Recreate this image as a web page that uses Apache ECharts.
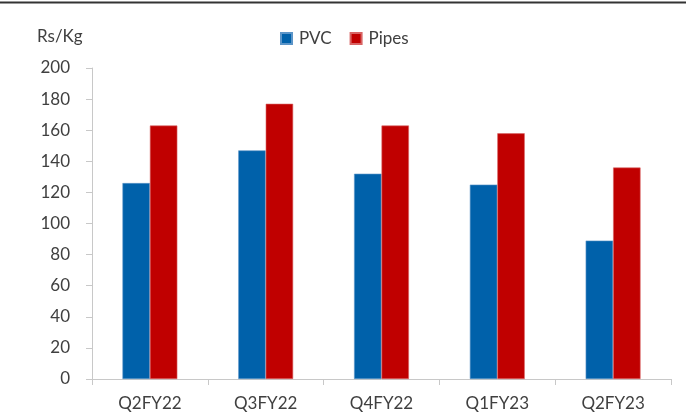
<!DOCTYPE html>
<html>
<head>
<meta charset="utf-8">
<script src="https://cdn.jsdelivr.net/npm/echarts@6/dist/echarts.min.js"></script>
<style>
  html, body { margin: 0; padding: 0; background: #fff; }
  #chart { width: 686px; height: 420px; }
</style>
</head>
<body>
<div id="chart"></div>
<script>
// data
const categories = ['Q2FY22', 'Q3FY22', 'Q4FY22', 'Q1FY23', 'Q2FY23']
const pvc = [126, 147, 132, 125, 89]
const pipes = [163, 177, 163, 158, 136]
const yTicks = { min: 0, max: 200, interval: 20 }

const font = 'Lato, "Noto Sans", sans-serif'
const textColor = '#404040'

let myChart = echarts.init(document.getElementById('chart'))
let option = {
  animation: false,
  textStyle: { fontFamily: font },
  title: {
    text: 'Rs/Kg',
    left: 32,
    top: 23,
    textStyle: { fontFamily: font, fontSize: 17, fontWeight: 'normal', color: textColor }
  },
  // 顶部横线
  graphic: [{
    type: 'line',
    shape: { x1: 0, y1: 2.5, x2: 686, y2: 2.5 },
    style: { stroke: '#333333', lineWidth: 2 }
  }],
  legend: {
    top: 25,
    left: 275,
    itemWidth: 11,
    itemHeight: 11,
    itemGap: 18,
    icon: 'rect',
    textStyle: { fontFamily: font, fontSize: 17, color: textColor, padding: [0, 0, 0, 2] },
    data: ['PVC', 'Pipes']
  },
  grid: { left: 92, right: 15, top: 68, bottom: 41 },
  xAxis: {
    type: 'category',
    data: categories,
    axisLine: { lineStyle: { color: '#c8c8c8', width: 1 } },
    axisTick: { show: true, length: 6, lineStyle: { color: '#c8c8c8' } },
    axisLabel: { fontFamily: font, fontSize: 17, color: textColor, margin: 16 }
  },
  yAxis: {
    type: 'value',
    min: yTicks.min,
    max: yTicks.max,
    interval: yTicks.interval,
    axisLine: { show: true, lineStyle: { color: '#c8c8c8', width: 1 } },
    axisTick: { show: true, length: 6, lineStyle: { color: '#c8c8c8' } },
    splitLine: { show: false },
    axisLabel: { fontFamily: font, fontSize: 17, color: textColor, margin: 22 }
  },
  series: [
    {
      name: 'PVC',
      type: 'bar',
      data: pvc,
      barWidth: '23.7%',
      barGap: '0%',
      itemStyle: { color: '#0061AA', borderColor: '#5c95c8', borderWidth: 0.6 }
    },
    {
      name: 'Pipes',
      type: 'bar',
      data: pipes,
      barWidth: '23.7%',
      barGap: '0%',
      itemStyle: { color: '#C00000', borderColor: '#d86464', borderWidth: 0.6 }
    }
  ]
}
myChart.setOption(option)
</script>
</body>
</html>
